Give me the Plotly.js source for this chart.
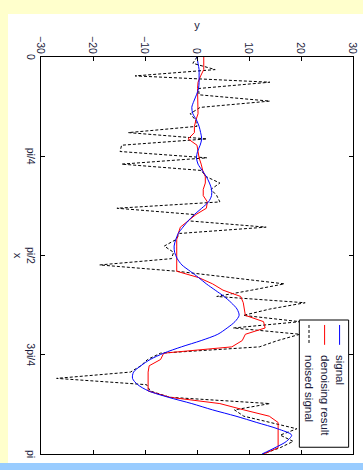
<!DOCTYPE html>
<html><head><meta charset="utf-8">
<script src="https://cdn.plot.ly/plotly-3.0.1.min.js"></script>
<style>
html,body{margin:0;padding:0;width:363px;height:470px;overflow:hidden;background:#ffffcc;}
#strip{position:absolute;left:0;top:463px;width:363px;height:7px;background:#99ccff;}
#chart{position:absolute;left:0;top:0;width:449px;height:355px;transform-origin:0 0;transform:translate(363px,14px) rotate(90deg);}
</style></head><body>
<div id="strip"></div>
<div id="chart"></div>
<script>
// x ticks (0..pi) and labels
const xTickVals = [0, Math.PI/4, Math.PI/2, 3*Math.PI/4, Math.PI];
const xTickText = ['0', 'pi/4', 'pi/2', '3pi/4', 'pi'];
const yTickVals = [-30, -20, -10, 0, 10, 20, 30];
const seriesNames = ['signal', 'denoising result', 'noised signal'];

// 64 samples on [0, pi]
const nSamples = 64;
const xs = Array.from({length: nSamples}, (_, i) => i * Math.PI / (nSamples - 1));

const signal = [0.0,0.2,0.4,0.4,0.4,0.3,-0.1,-0.6,-1.0,-0.8,
  -0.1,0.4,0.7,0.9,0.6,0.1,-0.1,0.2,1.0,1.8,
  2.4,2.8,2.8,2.2,0.9,-0.5,-1.7,-2.7,-3.6,-4.1,
  -4.4,-4.3,-3.8,-2.9,-1.3,0.3,1.8,3.5,5.2,6.6,
  7.7,8.1,7.3,5.8,4.0,0.8,-3.0,-6.4,-9.0,-10.8,
  -12.2,-12.4,-11.4,-9.3,-5.5,-1.0,3.0,7.5,11.5,15.5,
  18.2,17.2,15.0,12.5];

const denoised = [1.3,1.3,1.3,0.7,0.2,0.1,0.1,0.1,0.1,0.2,
  -0.2,-0.5,-0.5,-1.7,0.0,0.2,0.4,0.8,1.1,1.6,
  1.6,1.2,1.2,2.0,1.8,-0.2,-1.6,-3.2,-3.6,-3.9,
  -3.9,-3.9,-3.9,-3.9,-3.9,0.3,3.0,5.0,8.4,8.9,
  9.1,9.3,12.8,13.1,9.3,8.7,6.7,-6.4,-7.0,-9.2,
  -9.4,-9.4,-9.4,-9.4,-5.2,4.4,9.0,13.9,15.6,15.6,
  15.6,15.6,15.6,12.8];

const noised = [0.0,-0.8,3.5,-11.9,14.0,0.3,0.4,14.0,0.6,-1.3,
  -0.3,0.0,-13.2,1.9,-14.5,-14.8,1.9,-14.5,0.8,1.8,
  4.4,2.7,3.8,4.4,-15.4,-0.5,-1.7,13.3,-3.3,-4.1,
  -6.3,-4.5,-4.9,-18.7,-3.9,6.0,16.8,10.5,3.8,20.8,
  14.0,8.9,19.8,7.0,19.8,15.5,12.0,-7.0,-9.5,-10.8,
  -12.8,-27.0,-9.7,-9.0,-5.2,14.0,7.2,9.0,14.0,19.2,
  16.0,18.5,16.0,12.7];

const FONT = 'Liberation Sans, Arial, Helvetica, sans-serif';
const TXT = '#1a1a3a';

const traces = [
  {x: xs, y: noised, type: 'scatter', mode: 'lines', name: seriesNames[2],
   line: {color: '#000000', width: 1, dash: '3px,2px'}},
  {x: xs, y: denoised, type: 'scatter', mode: 'lines', name: seriesNames[1],
   line: {color: '#ff0000', width: 1}},
  {x: xs, y: signal, type: 'scatter', mode: 'lines', name: seriesNames[0],
   line: {color: '#0000ff', width: 1, shape: 'spline', smoothing: 0.8}}
];

// manual legend (paper coords)
const legY = [0.957, 0.909, 0.859];
const legStyles = [
  {color: '#0000ff', dash: 'solid'},
  {color: '#ff0000', dash: 'solid'},
  {color: '#000000', dash: '3px,2px'}
];
const shapes = [
  {type: 'rect', xref: 'paper', yref: 'paper', x0: 0.6625, x1: 0.983, y0: 0.828, y1: 0.986,
   fillcolor: '#ffffff', line: {color: '#000000', width: 1}, layer: 'above'}
];
const annotations = [];
seriesNames.forEach((n, i) => {
  shapes.push({type: 'line', xref: 'paper', yref: 'paper', x0: 0.675, x1: 0.725, y0: legY[i], y1: legY[i],
    line: {color: legStyles[i].color, width: 1, dash: legStyles[i].dash}, layer: 'above'});
  annotations.push({xref: 'paper', yref: 'paper', x: 0.745, y: legY[i], xanchor: 'left', yanchor: 'middle',
    text: n, showarrow: false, font: {family: FONT, size: 11.5, color: TXT}});
});

const axisCommon = {
  showline: true, linecolor: '#000000', linewidth: 1, mirror: 'ticks',
  ticks: 'inside', ticklen: 4, tickcolor: '#000000', showgrid: false, zeroline: false,
  tickfont: {family: FONT, size: 10.5, color: TXT}
};

const layout = {
  width: 449, height: 355,
  margin: {l: 43, r: 9, t: 10, b: 33},
  paper_bgcolor: '#ffffff', plot_bgcolor: '#ffffff',
  showlegend: false,
  font: {family: FONT, color: TXT},
  xaxis: Object.assign({}, axisCommon, {
    range: [0, Math.PI], tickmode: 'array', tickvals: xTickVals, ticktext: xTickText,
    title: {text: 'x', font: {family: FONT, size: 11, color: TXT}, standoff: 4}
  }),
  yaxis: Object.assign({}, axisCommon, {
    range: [-30, 30], tickmode: 'array', tickvals: yTickVals,
    title: {text: 'y', font: {family: FONT, size: 11, color: TXT}, standoff: 4}
  }),
  shapes: shapes,
  annotations: annotations
};

Plotly.newPlot('chart', traces, layout, {staticPlot: true, displayModeBar: false});
</script></body></html>
